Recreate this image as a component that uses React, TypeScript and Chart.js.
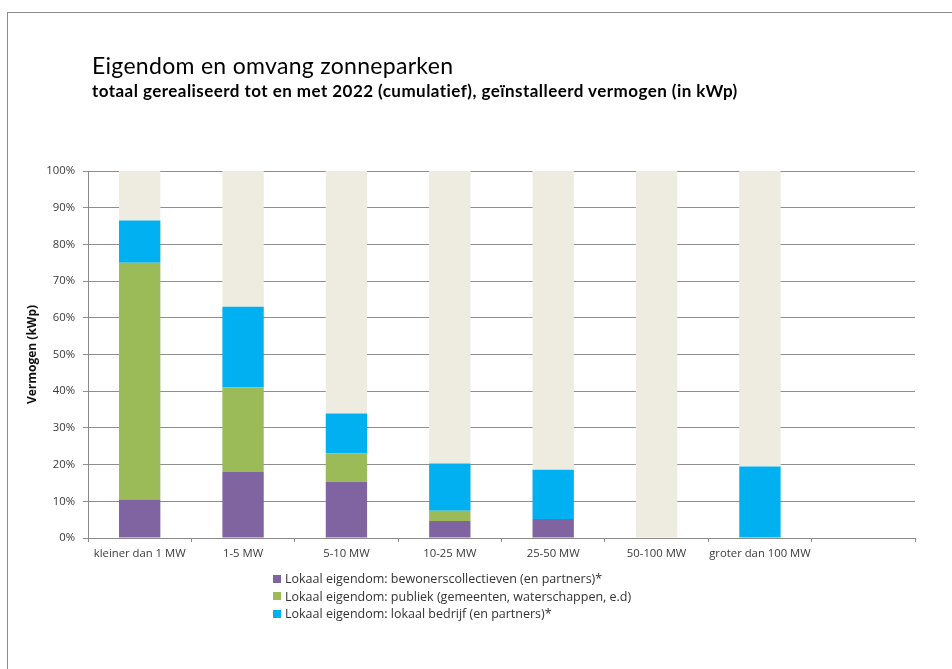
import React, { useEffect, useRef } from "react";
import { Chart, registerables } from "chart.js";

Chart.register(...registerables);

const categories = ["kleiner dan 1 MW", "1-5 MW", "5-10 MW", "10-25 MW", "25-50 MW", "50-100 MW", "groter dan 100 MW", ""];
const bewoners = [10.5, 18, 15.3, 4.6, 5.2, 0, 0, null];
const publiek = [64.5, 23, 7.7, 2.8, 0, 0, 0, null];
const bedrijf = [11.5, 22, 10.9, 12.9, 13.4, 0, 19.5, null];
const overig = [13.5, 37, 66.1, 79.7, 81.4, 100, 80.5, null];

const seriesNames = [
  "Lokaal eigendom: bewonerscollectieven (en partners)*",
  "Lokaal eigendom: publiek (gemeenten, waterschappen, e.d)",
  "Lokaal eigendom: lokaal bedrijf (en partners)*",
  "Overig",
];
const seriesColors = ["#8064A2", "#9BBB59", "#00B0F0", "#EEECE1"];

const TITLE = "Eigendom en omvang zonneparken";
const SUBTITLE = "totaal gerealiseerd tot en met 2022 (cumulatief), geïnstalleerd vermogen (in kWp)";
const Y_TITLE = "Vermogen (kWp)";

const tickFont = { family: "'Open Sans', 'Noto Sans', sans-serif", size: 11.3 };

export default function App() {
  const ref = useRef<HTMLCanvasElement | null>(null);

  useEffect(() => {
    if (!ref.current) return;
    const values = [bewoners, publiek, bedrijf, overig];
    const chart = new Chart(ref.current, {
      type: "bar",
      data: {
        labels: categories,
        datasets: values.map((v, i) => ({
          label: seriesNames[i],
          data: v,
          backgroundColor: seriesColors[i],
          borderWidth: 0,
          barPercentage: 0.4,
          categoryPercentage: 1,
        })),
      },
      options: {
        responsive: false,
        animation: false,
        layout: { padding: { left: 20, top: 171, right: 37, bottom: 101 } },
        plugins: {
          legend: { display: false },
          tooltip: { enabled: false },
          title: { display: false },
        },
        scales: {
          x: {
            stacked: true,
            grid: {
              offset: true,
              drawOnChartArea: false,
              drawTicks: true,
              tickLength: 4,
              color: "#8a8a8a",
            },
            border: { display: true, color: "#8a8a8a", width: 1 },
            ticks: { color: "#3a3a3a", font: tickFont, padding: 5, maxRotation: 0, autoSkip: false },
            afterFit: (s: any) => {
              s.height = 30;
            },
          },
          y: {
            stacked: true,
            min: 0,
            max: 100,
            grid: { color: "#8f8f8f", lineWidth: 1, tickLength: 5, drawTicks: true },
            border: { display: true, color: "#8a8a8a", width: 1 },
            ticks: {
              stepSize: 10,
              color: "#3a3a3a",
              font: tickFont,
              padding: 8,
              callback: (v: any) => v + "%",
            },
            title: {
              display: true,
              text: Y_TITLE,
              color: "#111",
              font: { family: "'Open Sans', 'Noto Sans', sans-serif", size: 12, weight: "bold" },
              padding: { top: 5, bottom: 0 },
            },
            afterFit: (s: any) => {
              s.width = 68;
            },
          },
        },
      },
    });
    return () => chart.destroy();
  }, []);

  return (
    <div style={{ position: "fixed", left: 0, top: 0, width: 952, height: 669, background: "#fff", overflow: "hidden" }}>
      <div
        style={{
          position: "absolute",
          left: 7,
          top: 12,
          width: 1000,
          height: 1000,
          borderLeft: "1px solid #8c8c8c",
          borderTop: "1px solid #8c8c8c",
          boxSizing: "border-box",
        }}
      />
      <canvas ref={ref} width={952} height={669} style={{ position: "absolute", left: 0, top: 0 }} />
      <div
        style={{
          position: "absolute",
          left: 92,
          top: 52,
          fontFamily: "Lato, sans-serif",
          fontSize: 23,
          letterSpacing: 0.3,
          color: "#000",
          whiteSpace: "nowrap",
          lineHeight: "26px",
        }}
      >
        {TITLE}
      </div>
      <div
        style={{
          position: "absolute",
          left: 92,
          top: 80,
          fontFamily: "Lato, sans-serif",
          fontSize: 17,
          fontWeight: "bold",
          letterSpacing: 0.45,
          color: "#000",
          whiteSpace: "nowrap",
          lineHeight: "22px",
        }}
      >
        {SUBTITLE}
      </div>
      <div style={{ position: "absolute", left: 273, top: 570 }}>
        {seriesNames.slice(0, 3).map((n, i) => (
          <div
            key={n}
            style={{
              display: "flex",
              alignItems: "center",
              height: 17.5,
              fontFamily: "'Open Sans', 'Noto Sans', sans-serif",
              fontSize: 12.5,
              color: "#333",
              whiteSpace: "nowrap",
            }}
          >
            <span style={{ display: "inline-block", width: 8, height: 8, background: seriesColors[i], marginRight: 4 }} />
            {n}
          </div>
        ))}
      </div>
    </div>
  );
}
